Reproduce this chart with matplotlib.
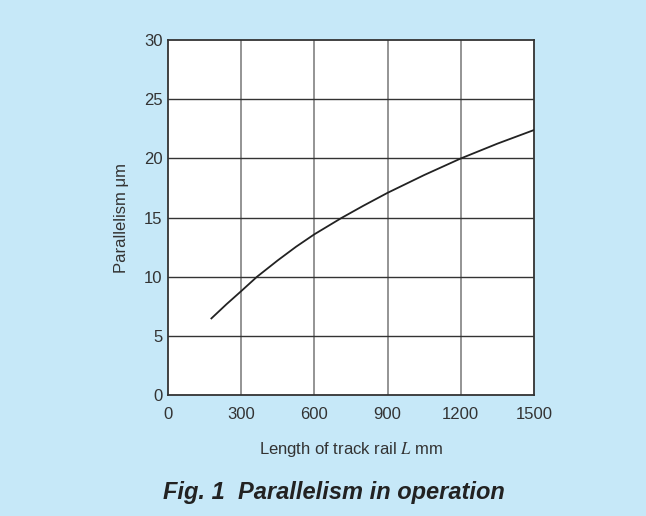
import matplotlib
matplotlib.use("Agg")
import matplotlib.pyplot as plt

# rail length L (mm) vs parallelism (um)
length_mm = [178, 240, 300, 364, 450, 525, 600, 713, 800, 900, 1050, 1200, 1350, 1500]
parallelism_um = [6.5, 7.7, 8.8, 10.0, 11.4, 12.55, 13.6, 15.0, 16.0, 17.1, 18.6, 20.0, 21.25, 22.4]

x_ticks = [0, 300, 600, 900, 1200, 1500]
y_ticks = [0, 5, 10, 15, 20, 25, 30]

bg = "#c6e8f8"
plt.rcParams["font.family"] = ["Liberation Sans", "DejaVu Sans"]
plt.rcParams["mathtext.fontset"] = "stix"

fig = plt.figure(figsize=(6.46, 5.16), dpi=100, facecolor=bg)
ax = fig.add_axes([0.260, 0.2337, 0.5666, 0.6888])
ax.set_facecolor("white")

ax.plot(length_mm, parallelism_um, color="#222222", lw=1.3, zorder=3,
        solid_joinstyle="round")

ax.set_xlim(0, 1500)
ax.set_ylim(0, 30)
ax.set_xticks(x_ticks)
ax.set_yticks(y_ticks)
ax.tick_params(length=0, labelsize=12, colors="#333333", pad=4)
ax.tick_params(axis="x", pad=8)

for v in x_ticks[1:-1]:
    ax.axvline(v, color="#777777", lw=1.1, zorder=1)
for v in y_ticks[1:-1]:
    ax.axhline(v, color="#333333", lw=1.0, zorder=1)

for s in ax.spines.values():
    s.set_color("#333333")
    s.set_linewidth(1.3)

ax.set_ylabel("Parallelism μm", fontsize=12, color="#333333", labelpad=11)
ax.set_xlabel("Length of track rail $L$ mm", fontsize=12, color="#333333", labelpad=13)

fig.text(0.5167, 0.045, "Fig. 1  Parallelism in operation", ha="center", va="center",
         fontsize=17, fontweight="bold", fontstyle="italic", color="#222222")

fig.savefig("out.png", dpi=100, facecolor=bg)
